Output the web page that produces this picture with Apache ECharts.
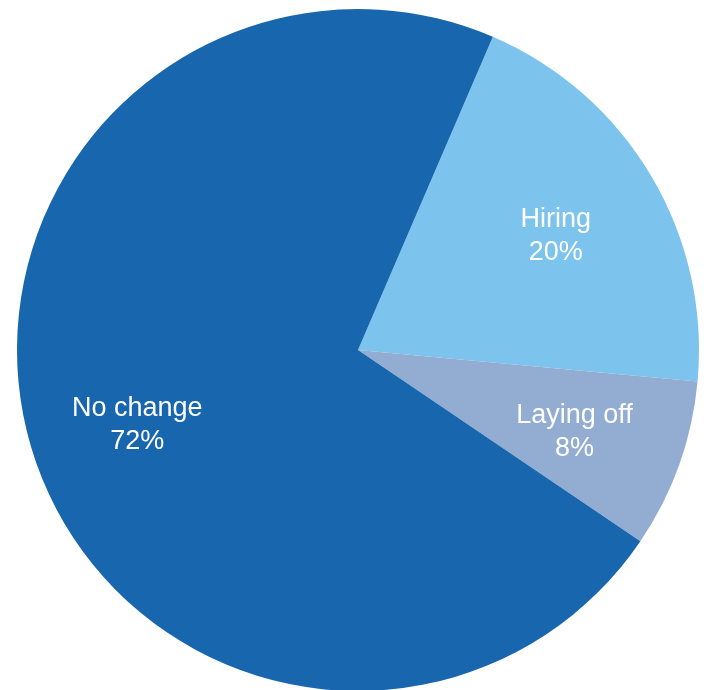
<!DOCTYPE html>
<html>
<head>
<meta charset="utf-8">
<script src="https://cdn.jsdelivr.net/npm/echarts@6/dist/echarts.min.js"></script>
<style>
  html, body { margin: 0; padding: 0; background: #ffffff; }
  #chart { width: 708px; height: 690px; }
</style>
</head>
<body>
<div id="chart"></div>
<script>
// Workforce plans breakdown
const categories = ['Hiring', 'Laying off', 'No change'];
const shares = [20, 8, 72];
const colors = ['#7cc3ee', '#93acd2', '#1766ae'];

const center = [358, 350];
const outerRadius = 341;
const startAngle = 66.7;

const sliceData = categories.map((name, i) => ({
  name: name,
  value: shares[i],
  itemStyle: { color: colors[i] }
}));

// small nudges for individual labels
const nudge = { 'Hiring': [0, 3], 'Laying off': [0, 5], 'No change': [0, 10] };
const labelData = categories.map((name, i) => ({
  name: name,
  value: shares[i],
  label: { offset: nudge[name] }
}));

const chart = echarts.init(document.getElementById('chart'), null, { renderer: 'canvas' });
chart.setOption({
  animation: false,
  backgroundColor: '#ffffff',
  series: [
    {
      // filled slices
      type: 'pie',
      center: center,
      radius: [0, outerRadius],
      startAngle: startAngle,
      clockwise: true,
      silent: true,
      label: { show: false },
      labelLine: { show: false },
      itemStyle: { borderWidth: 0 },
      data: sliceData
    },
    {
      // invisible wedges carrying the slice labels further out
      type: 'pie',
      center: center,
      radius: [0, 454],
      startAngle: startAngle,
      clockwise: true,
      silent: true,
      color: ['rgba(0,0,0,0)'],
      itemStyle: { color: 'rgba(0,0,0,0)', borderWidth: 0 },
      label: {
        show: true,
        position: 'inside',
        formatter: '{b}\n{d}%',
        color: '#ffffff',
        fontFamily: 'Liberation Sans, Arial, sans-serif',
        fontSize: 27,
        lineHeight: 33,
        align: 'center'
      },
      labelLine: { show: false },
      data: labelData
    }
  ]
});
</script>
</body>
</html>
